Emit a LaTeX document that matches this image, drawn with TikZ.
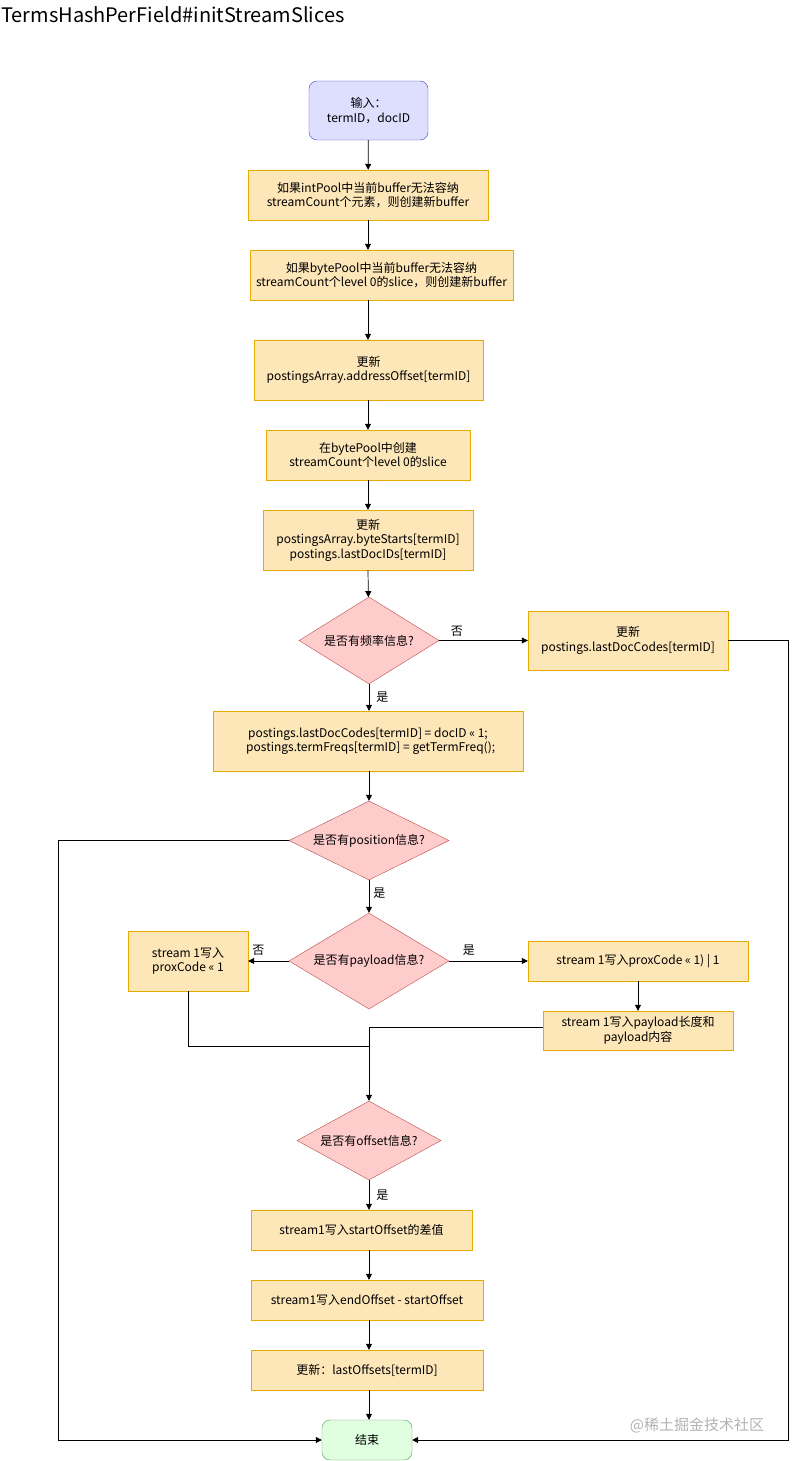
\documentclass[tikz,border=0pt]{standalone}
\usepackage{fontspec}
\setmainfont{Noto Sans CJK SC}
\usetikzlibrary{shapes.geometric,arrows.meta}
\begin{document}
\begin{tikzpicture}[x=1pt,y=-1pt,
  every node/.style={font=\fontsize{12}{14.5}\selectfont,align=center,inner sep=1pt},
  proc/.style={draw=yellow!50!orange!70!black,fill=yellow!25!orange!20,draw=orange!60!yellow,minimum height=#1},
  proc/.default=40,
  dia/.style={diamond,aspect=1.7,draw=red!60!black!70,fill=red!20,inner sep=0pt},
  lbl/.style={font=\fontsize{12}{14}\selectfont},
  arr/.style={-{Triangle[length=6pt,width=6pt]},line width=0.7pt},
  ln/.style={line width=0.7pt}]
\useasboundingbox (0,0) rectangle (797,1461);
\tikzset{pb/.style={draw=orange!50!yellow!90!black,fill=yellow!30!orange!25}}
\node[anchor=west,font=\fontsize{20}{24}\selectfont] (title) at (0,15) {TermsHashPerField\#initStreamSlices};
\node[draw=blue!45!gray,fill=blue!13,rounded corners=8pt,minimum width=119,minimum height=59] (s) at (368.5,110.5) {输入：\\termID，docID};
\node[pb,minimum width=240,minimum height=50] (b1) at (368,195) {如果intPool中当前buffer无法容纳\\streamCount个元素，则创建新buffer};
\node[pb,minimum width=263,minimum height=50] (b2) at (381.5,275) {如果bytePool中当前buffer无法容纳\\streamCount个level 0的slice，则创建新buffer};
\node[pb,minimum width=229,minimum height=60] (b3) at (368.5,370) {更新\\postingsArray.addressOffset[termID]};
\node[pb,minimum width=204,minimum height=50] (b4) at (368,455) {在bytePool中创建\\streamCount个level 0的slice};
\node[pb,minimum width=210,minimum height=60] (b5) at (368,540) {更新\\postingsArray.byteStarts[termID]\\postings.lastDocIDs[termID]};
\node[dia,minimum width=140,minimum height=87] (d1) at (369,640.5) {是否有频率信息?};
\node[pb,minimum width=200,minimum height=59] (r1) at (628,640.5) {更新\\postings.lastDocCodes[termID]};
\node[pb,minimum width=310,minimum height=60] (b6) at (368,741) {postings.lastDocCodes[termID] = docID << 1;\\\ \ postings.termFreqs[termID] = getTermFreq();};
\node[dia,minimum width=160,minimum height=79] (d2) at (369,840.5) {是否有position信息?};
\node[dia,minimum width=160,minimum height=96] (d3) at (369,961) {是否有payload信息?};
\node[pb,minimum width=120,minimum height=60] (lb) at (188,961) {stream 1写入\\proxCode << 1};
\node[pb,minimum width=220,minimum height=40] (rb) at (638,961) {stream 1写入proxCode << 1) | 1};
\node[pb,minimum width=190,minimum height=39] (pb2) at (638,1030.5) {stream 1写入payload长度和\\payload内容};
\node[dia,minimum width=144,minimum height=79] (d4) at (369,1140.5) {是否有offset信息?};
\node[pb,minimum width=221,minimum height=40] (b7) at (361.5,1230) {stream1写入startOffset的差值};
\node[pb,minimum width=232,minimum height=40] (b8) at (367,1300) {stream1写入endOffset - startOffset};
\node[pb,minimum width=232,minimum height=40] (b9) at (367,1370) {更新：lastOffsets[termID]};
\node[draw=green!45!black!70,fill=green!15!gray!15,fill=green!12,rounded corners=8pt,minimum width=90,minimum height=40] (e) at (367,1440) {结束};
\node[text=gray!60,font=\fontsize{15}{18}\selectfont] (wm) at (697,1425) {@稀土掘金技术社区};
\coordinate (j1) at (369,1027);
\coordinate (j2) at (369,1046);
\draw[arr] (s) -- (b1);
\draw[arr] (b1) -- (b1|-b2.north);
\draw[arr] (b1|-b2.south) -- (b1|-b3.north);
\draw[arr] (b1|-b3.south) -- (b1|-b4.north);
\draw[arr] (b4) -- (b1|-b5.north);
\draw[arr] (b1|-b5.south) -- (d1);
\draw[arr] (d1) -- node[lbl,pos=0.2,above=3pt]{否} (r1);
\draw[arr] (r1.east) -- ++(60,0) |- (e.east);
\draw[arr] (d1) -- node[lbl,right=6pt,pos=0.5]{是} (d1|-b6.north);
\draw[arr] (d1|-b6.south) -- (d2);
\draw[arr] (d2.west) -- (58,840.5) |- (e.west);
\draw[arr] (d2) -- node[lbl,right=3pt,pos=0.4]{是} (d3);
\draw[arr] (d3) -- node[lbl,pos=0.75,above=4pt]{否} (lb);
\draw[arr] (d3) -- node[lbl,pos=0.25,above=4pt]{是} (rb);
\draw[arr] (rb) -- (pb2);
\draw[ln] (pb2.west|-j1) -- (j1);
\draw[arr] (j1) -- (d4.north);
\draw[ln] (lb) |- (j2);
\draw[arr] (d4) -- node[lbl,right=6pt,pos=0.5]{是} (d4|-b7.north);
\draw[arr] (d4|-b7.south) -- (d4|-b8.north);
\draw[arr] (d4|-b8.south) -- (d4|-b9.north);
\draw[arr] (d4|-b9.south) -- (d4|-e.north);
\end{tikzpicture}
\end{document}
